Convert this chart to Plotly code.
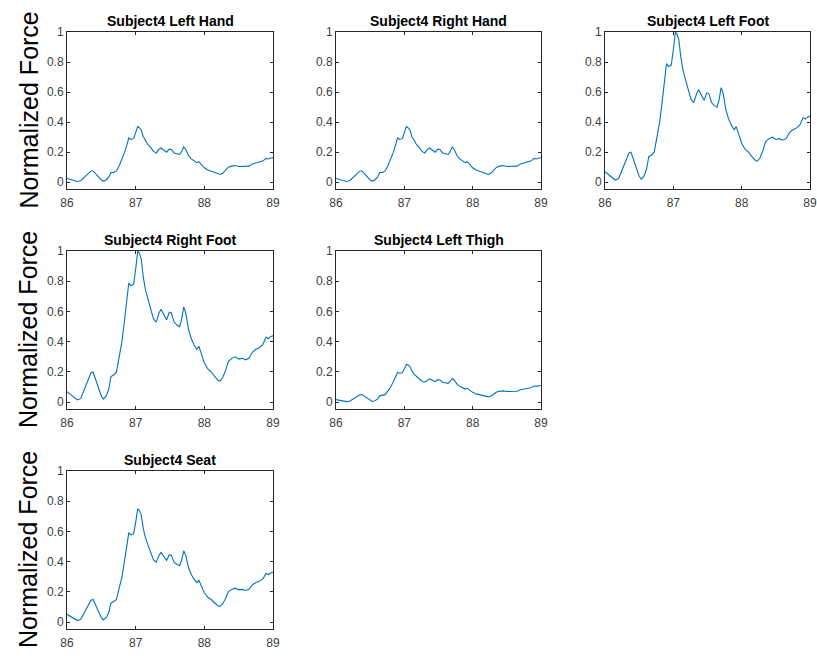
import plotly.graph_objects as go

# ---- data ----
time_s = [86.00, 86.05, 86.10, 86.15, 86.20, 86.25, 86.30, 86.35, 86.38, 86.42, 86.46, 86.50,
          86.53, 86.57, 86.61, 86.64, 86.68, 86.72, 86.76, 86.80, 86.84, 86.88, 86.90, 86.93,
          86.97, 87.00, 87.03, 87.05, 87.08, 87.11, 87.14, 87.18, 87.22, 87.26, 87.30, 87.34,
          87.37, 87.41, 87.45, 87.49, 87.52, 87.56, 87.60, 87.64, 87.67, 87.70, 87.73, 87.77,
          87.81, 87.85, 87.89, 87.92, 87.96, 88.00, 88.05, 88.10, 88.15, 88.20, 88.23, 88.27,
          88.31, 88.35, 88.40, 88.45, 88.50, 88.55, 88.60, 88.65, 88.70, 88.75, 88.80, 88.85,
          88.90, 88.93, 88.97, 89.00]

left_hand = [0.025, 0.018, 0.010, 0.005, 0.010, 0.030, 0.050, 0.075, 0.075, 0.055, 0.035, 0.015,
             0.008, 0.015, 0.035, 0.065, 0.065, 0.075, 0.110, 0.150, 0.200, 0.260, 0.295, 0.285,
             0.290, 0.330, 0.370, 0.365, 0.350, 0.305, 0.280, 0.250, 0.230, 0.205, 0.195, 0.220,
             0.228, 0.215, 0.200, 0.220, 0.218, 0.195, 0.190, 0.185, 0.205, 0.235, 0.218, 0.178,
             0.155, 0.140, 0.130, 0.137, 0.115, 0.096, 0.082, 0.074, 0.063, 0.054, 0.052, 0.061,
             0.078, 0.100, 0.107, 0.111, 0.105, 0.107, 0.104, 0.107, 0.122, 0.130, 0.133, 0.141,
             0.159, 0.155, 0.161, 0.163]

right_hand = [0.025, 0.018, 0.010, 0.005, 0.010, 0.030, 0.050, 0.075, 0.075, 0.055, 0.035, 0.015,
              0.008, 0.015, 0.035, 0.065, 0.065, 0.075, 0.110, 0.150, 0.200, 0.260, 0.295, 0.285,
              0.290, 0.330, 0.370, 0.365, 0.350, 0.305, 0.280, 0.250, 0.230, 0.205, 0.195, 0.220,
              0.228, 0.215, 0.200, 0.220, 0.218, 0.195, 0.190, 0.185, 0.205, 0.235, 0.218, 0.178,
              0.155, 0.140, 0.130, 0.137, 0.115, 0.096, 0.082, 0.074, 0.063, 0.054, 0.052, 0.061,
              0.078, 0.100, 0.107, 0.111, 0.105, 0.107, 0.104, 0.107, 0.122, 0.130, 0.133, 0.141,
              0.159, 0.155, 0.161, 0.163]

left_foot = [0.070, 0.050, 0.030, 0.015, 0.025, 0.080, 0.130, 0.195, 0.200, 0.150, 0.090, 0.040,
             0.020, 0.040, 0.090, 0.170, 0.180, 0.200, 0.300, 0.400, 0.550, 0.700, 0.790, 0.770,
             0.780, 0.880, 1.000, 0.990, 0.950, 0.830, 0.750, 0.680, 0.620, 0.550, 0.530, 0.590,
             0.615, 0.580, 0.545, 0.595, 0.590, 0.530, 0.510, 0.500, 0.550, 0.630, 0.590, 0.480,
             0.420, 0.380, 0.350, 0.370, 0.310, 0.260, 0.220, 0.200, 0.170, 0.145, 0.140, 0.165,
             0.210, 0.270, 0.290, 0.300, 0.285, 0.290, 0.280, 0.290, 0.330, 0.350, 0.360, 0.380,
             0.430, 0.420, 0.435, 0.440]

right_foot = [0.070, 0.050, 0.030, 0.015, 0.025, 0.080, 0.130, 0.195, 0.200, 0.150, 0.090, 0.040,
              0.020, 0.040, 0.090, 0.170, 0.180, 0.200, 0.300, 0.400, 0.550, 0.700, 0.790, 0.770,
              0.780, 0.880, 1.000, 0.990, 0.950, 0.830, 0.750, 0.680, 0.620, 0.550, 0.530, 0.590,
              0.615, 0.580, 0.545, 0.595, 0.590, 0.530, 0.510, 0.500, 0.550, 0.630, 0.590, 0.480,
              0.420, 0.380, 0.350, 0.370, 0.310, 0.260, 0.220, 0.200, 0.170, 0.145, 0.140, 0.165,
              0.210, 0.270, 0.290, 0.300, 0.285, 0.290, 0.280, 0.290, 0.330, 0.350, 0.360, 0.380,
              0.430, 0.420, 0.435, 0.440]

left_thigh = [0.017, 0.012, 0.007, 0.004, 0.006, 0.020, 0.032, 0.049, 0.050, 0.037, 0.022, 0.010,
              0.005, 0.010, 0.022, 0.042, 0.045, 0.050, 0.075, 0.100, 0.137, 0.175, 0.197, 0.192,
              0.195, 0.220, 0.250, 0.247, 0.237, 0.207, 0.187, 0.170, 0.155, 0.137, 0.132, 0.147,
              0.154, 0.145, 0.136, 0.149, 0.147, 0.132, 0.127, 0.125, 0.137, 0.157, 0.147, 0.120,
              0.105, 0.095, 0.087, 0.092, 0.077, 0.065, 0.055, 0.050, 0.042, 0.036, 0.035, 0.041,
              0.052, 0.067, 0.072, 0.075, 0.071, 0.072, 0.070, 0.072, 0.082, 0.087, 0.090, 0.095,
              0.107, 0.105, 0.109, 0.110]

seat = [0.052, 0.037, 0.022, 0.011, 0.019, 0.060, 0.097, 0.146, 0.150, 0.112, 0.067, 0.030,
        0.015, 0.030, 0.067, 0.127, 0.135, 0.150, 0.225, 0.300, 0.412, 0.525, 0.592, 0.577,
        0.585, 0.660, 0.750, 0.742, 0.712, 0.622, 0.562, 0.510, 0.465, 0.412, 0.397, 0.442,
        0.461, 0.435, 0.409, 0.446, 0.442, 0.397, 0.382, 0.375, 0.412, 0.472, 0.442, 0.360,
        0.315, 0.285, 0.262, 0.277, 0.232, 0.195, 0.165, 0.150, 0.127, 0.109, 0.105, 0.124,
        0.157, 0.202, 0.217, 0.225, 0.214, 0.217, 0.210, 0.217, 0.247, 0.262, 0.270, 0.285,
        0.322, 0.315, 0.326, 0.330]

titles = ["Subject4 Left Hand", "Subject4 Right Hand", "Subject4 Left Foot",
          "Subject4 Right Foot", "Subject4 Left Thigh", "Subject4 Seat"]
series = [left_hand, right_hand, left_foot, right_foot, left_thigh, seat]
x_ticks = [86, 87, 88, 89]
y_ticks = [0, 0.2, 0.4, 0.6, 0.8, 1]
y_ticklabels = ["0", "0.2", "0.4", "0.6", "0.8", "1"]
y_label = "Normalized Force"

for s in series:
    if len(s) != len(time_s):
        raise ValueError("length mismatch")

# ---- layout ----
W, H = 817, 660
col_px = [(67, 273), (336, 541), (605, 810)]
row_px = [(32, 189), (251, 409), (471, 629)]
cells = [(0, 0), (0, 1), (0, 2), (1, 0), (1, 1), (2, 0)]

fig = go.Figure()
layout = dict(width=W, height=H, margin=dict(l=0, r=0, t=0, b=0, pad=0, autoexpand=False),
              paper_bgcolor="white", plot_bgcolor="white", showlegend=False,
              font=dict(family="Liberation Sans, Arial, sans-serif", color="#404040"))
annotations = []
axis_color = "#262626"

for i, ((r, c), name, ys) in enumerate(zip(cells, titles, series)):
    n = "" if i == 0 else str(i + 1)
    fig.add_trace(go.Scatter(x=time_s, y=ys, mode="lines",
                             line=dict(color="#0072BD", width=1.1),
                             xaxis="x" + n, yaxis="y" + n, hoverinfo="skip"))
    x0, x1 = col_px[c]
    y0, y1 = row_px[r]
    xd = [x0 / W, x1 / W]
    yd = [1 - y1 / H, 1 - y0 / H]
    common = dict(showline=True, mirror="ticks", linecolor=axis_color, linewidth=1,
                  ticks="inside", ticklen=3, tickcolor=axis_color, tickwidth=1,
                  showgrid=False, zeroline=False, automargin=False,
                  tickfont=dict(size=12, color="#404040"))
    layout["xaxis" + n] = dict(domain=xd, range=[86, 89], tickvals=x_ticks,
                               anchor="y" + n, ticklabelstandoff=3, **common)
    layout["yaxis" + n] = dict(domain=yd, range=[-0.045, 1], tickvals=y_ticks,
                               ticktext=y_ticklabels, anchor="x" + n,
                               ticklabelstandoff=0, **common)
    annotations.append(dict(text="<b>" + name + "</b>", x=(xd[0] + xd[1]) / 2,
                            y=yd[1], xref="paper", yref="paper", xanchor="center",
                            yanchor="bottom", yshift=1, showarrow=False,
                            font=dict(size=14, color="black")))
    if c == 0:
        annotations.append(dict(text=y_label, x=28 / W, y=(yd[0] + yd[1]) / 2,
                                xref="paper", yref="paper", xanchor="center",
                                yanchor="middle", textangle=-90, showarrow=False,
                                font=dict(size=25, color="black")))

layout["annotations"] = annotations
fig.update_layout(**layout)
fig.write_html("out.html")
